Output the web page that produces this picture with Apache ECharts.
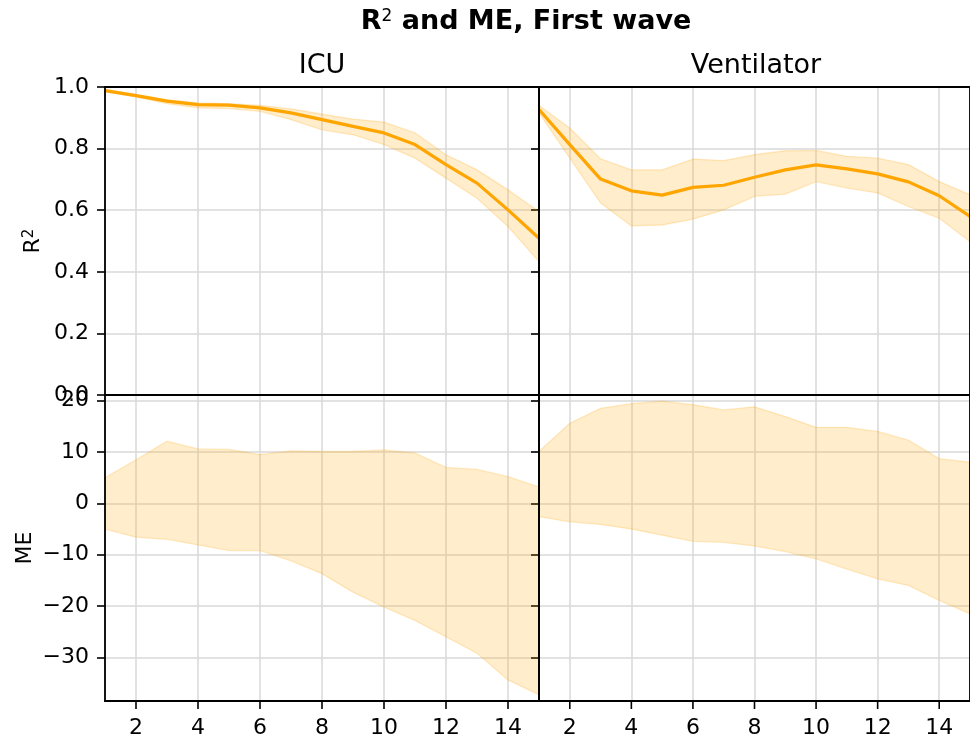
<!DOCTYPE html>
<html><head><meta charset="utf-8">
<script src="https://cdn.jsdelivr.net/npm/echarts@6/dist/echarts.min.js"></script>
<style>html,body{margin:0;padding:0;background:#fff}#c{width:970px;height:739px}</style>
</head><body><div id="c"></div>
<script>
// ---------- data ----------
const steps = [1,2,3,4,5,6,7,8,9,10,11,12,13,14,15];
const xTicks = [2,4,6,8,10,12,14];
const r2Ticks = [0,0.2,0.4,0.6,0.8,1.0];
const meTicks = [-30,-20,-10,0,10,20];
const panelTitles = ['ICU','Ventilator'];

const icuR2Mean  = [0.988,0.972,0.954,0.943,0.941,0.932,0.916,0.894,0.872,0.851,0.813,0.748,0.688,0.601,0.509];
const icuR2Upper = [0.992,0.976,0.959,0.948,0.946,0.940,0.929,0.912,0.896,0.886,0.851,0.780,0.731,0.666,0.596];
const icuR2Lower = [0.985,0.968,0.946,0.932,0.930,0.921,0.894,0.861,0.845,0.813,0.769,0.704,0.639,0.547,0.433];

const ventR2Mean  = [0.927,0.813,0.701,0.663,0.649,0.674,0.681,0.707,0.731,0.747,0.734,0.718,0.692,0.647,0.580];
const ventR2Upper = [0.940,0.867,0.767,0.731,0.731,0.766,0.761,0.780,0.793,0.794,0.775,0.769,0.748,0.693,0.650];
const ventR2Lower = [0.916,0.769,0.623,0.549,0.552,0.571,0.601,0.645,0.652,0.693,0.672,0.656,0.612,0.574,0.498];

const icuMEUpper = [5.0,8.5,12.1,10.6,10.5,9.5,10.2,10.1,10.1,10.4,9.8,7.0,6.6,5.2,3.2];
const icuMELower = [-5.0,-6.6,-7.0,-8.1,-9.2,-9.2,-11.2,-13.7,-17.3,-20.2,-22.8,-26.0,-29.2,-34.4,-37.3];

const ventMEUpper = [10.1,15.6,18.5,19.4,19.9,19.2,18.2,18.8,16.9,14.8,14.8,14.0,12.3,8.7,8.0];
const ventMELower = [-2.6,-3.6,-4.1,-5.0,-6.2,-7.4,-7.6,-8.3,-9.4,-10.8,-12.8,-14.7,-16.0,-18.9,-21.5];

// ---------- chart ----------
const FONT = 'DejaVu Sans';
const ORANGE = '#FFA500';
const grids = [
  {left:105, top:87, width:434, height:308},
  {left:539, top:87, width:434, height:308},
  {left:105, top:395, width:434, height:308},
  {left:539, top:395, width:434, height:308}
].map(g => Object.assign(g, {show:true, borderColor:'#000', borderWidth:1.8, backgroundColor:'transparent', z:5}));

const gridLine = {show:true, lineStyle:{color:'#d9d9d9', width:1.5}};
const tickStyle = {color:'#000', width:1.6};

function xAxisFor(i) {
  const bottom = i >= 2;
  return {
    type:'value', gridIndex:i, min:1, max:15, splitNumber:7, position:'bottom',
    axisLine:{show:bottom, onZero:false, lineStyle:{color:'#000', width:1.8}},
    axisTick:{show:false},
    axisLabel:{show:bottom, customValues:xTicks, fontSize:22, fontFamily:FONT, color:'#000', margin:16},
    splitLine:gridLine
  };
}
function yAxisFor(i) {
  const left = (i % 2) === 0;
  const isR2 = i < 2;
  const ax = {
    type:'value', gridIndex:i, position:'left',
    min: isR2 ? 0 : -38.5, max: isR2 ? 1 : 21.1, splitNumber:5,
    axisLine:{show:false, onZero:false},
    axisTick:{show:true, length:8, lineStyle:tickStyle, customValues: isR2 ? r2Ticks : meTicks},
    axisLabel:{show:left, customValues: isR2 ? r2Ticks : meTicks, fontSize:22, fontFamily:FONT, color:'#000', margin:16,
      formatter: v => isR2 ? v.toFixed(1) : (v < 0 ? '\u2212' + Math.abs(v) : String(v))},
    splitLine:gridLine
  };
  if (i === 0) {
    Object.assign(ax, {name:'{a|R}{b|2}', nameLocation:'middle', nameGap:61, nameRotate:90,
      nameTextStyle:{rich:{a:{fontSize:22, fontFamily:FONT, color:'#000', verticalAlign:'bottom'}, b:{fontSize:15, fontFamily:FONT, color:'#000', verticalAlign:'top'}}}});
  }
  if (i === 2) {
    Object.assign(ax, {name:'ME', nameLocation:'middle', nameGap:69, nameRotate:90,
      nameTextStyle:{fontSize:22, fontFamily:FONT, color:'#000'}});
  }
  return ax;
}

function band(i, lower, upper) {
  const data = steps.map((s, k) => [s, lower[k], upper[k]]);
  return {
    type:'custom', xAxisIndex:i, yAxisIndex:i, data, silent:true, z:2, clip:true,
    encode:{x:0, y:[1,2]},
    renderItem(params, api) {
      if (params.dataIndex !== 0) return null;
      const up = data.map(d => api.coord([d[0], d[2]]));
      const lo = data.map(d => api.coord([d[0], d[1]])).reverse();
      return {type:'polygon', shape:{points: up.concat(lo)},
        style:{fill:'rgba(255,165,0,0.2)', stroke:'rgba(255,165,0,0.22)', lineWidth:1.3}};
    }
  };
}
function meanLine(i, vals) {
  return {type:'line', xAxisIndex:i, yAxisIndex:i, data: steps.map((s,k)=>[s, vals[k]]),
    symbol:'none', lineStyle:{color:ORANGE, width:3.2}, z:3, silent:true};
}
// x-axis tick marks below the bottom panels, placed by the x scale
function xTickMarks(i) {
  return {
    type:'custom', xAxisIndex:i, yAxisIndex:i, data: xTicks.map(v => [v, 0]), silent:true, clip:false, z:6,
    encode:{x:0, y:1},
    renderItem(params, api) {
      const cs = params.coordSys;
      const px = api.coord([api.value(0), 0])[0];
      const y0 = cs.y + cs.height;
      return {type:'line', shape:{x1:px, y1:y0, x2:px, y2:y0 + 8}, style:{stroke:'#000', lineWidth:1.6}};
    }
  };
}

const option = {
  animation:false,
  grid: grids,
  xAxis: [0,1,2,3].map(xAxisFor),
  yAxis: [0,1,2,3].map(yAxisFor),
  series: [
    band(0, icuR2Lower, icuR2Upper), meanLine(0, icuR2Mean),
    band(1, ventR2Lower, ventR2Upper), meanLine(1, ventR2Mean),
    band(2, icuMELower, icuMEUpper),
    band(3, ventMELower, ventMEUpper),
    xTickMarks(2), xTickMarks(3)
  ],
  graphic: [
    {type:'text', x:526, y:22, style:{text:'{a|R}{b|2}{a| and ME, First wave}', align:'center', verticalAlign:'middle',
      rich:{a:{fontSize:27, fontWeight:'bold', fontFamily:FONT, fill:'#000', verticalAlign:'bottom'},
            b:{fontSize:17, fontFamily:FONT, fill:'#000', verticalAlign:'top'}}}},
    {type:'text', x:322, y:66, style:{text:panelTitles[0], align:'center', verticalAlign:'middle', fontSize:27, fontFamily:FONT, fill:'#000'}},
    {type:'text', x:756, y:66, style:{text:panelTitles[1], align:'center', verticalAlign:'middle', fontSize:27, fontFamily:FONT, fill:'#000'}}
  ]
};
const chart = echarts.init(document.getElementById('c'), null, {renderer:'canvas'});
chart.setOption(option);
</script></body></html>
